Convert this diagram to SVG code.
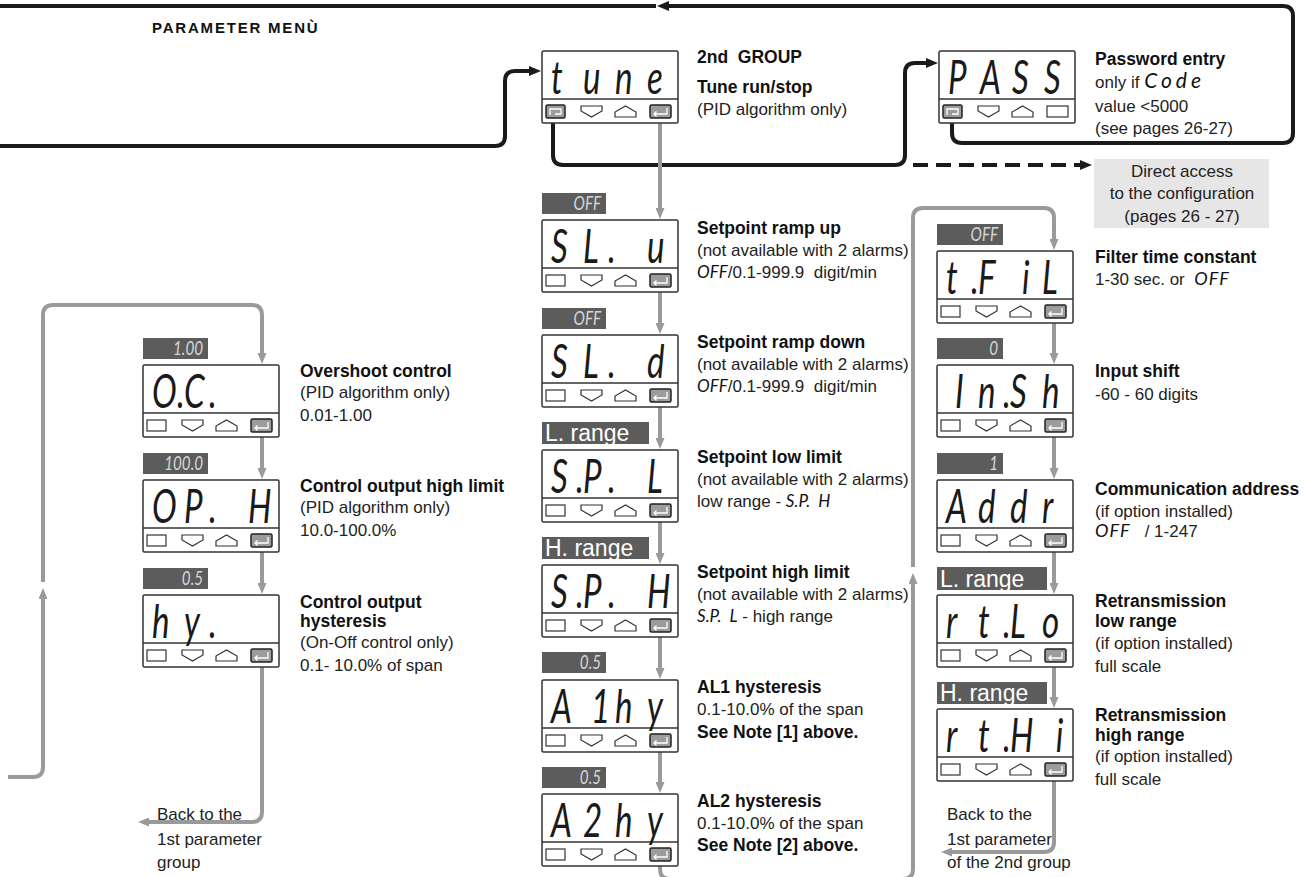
<svg xmlns="http://www.w3.org/2000/svg" width="1307" height="877" viewBox="0 0 1307 877">
<style>
.t{font-family:"Liberation Sans",Arial,sans-serif;font-size:17px;fill:#222}
.b{font-family:"Liberation Sans",Arial,sans-serif;font-size:17.5px;font-weight:bold;fill:#111}
.seg{font-family:Lato,"DejaVu Sans",sans-serif;font-weight:400;font-style:italic;font-size:46px;fill:#1a1a1a}
.bseg{font-family:Lato,"DejaVu Sans",sans-serif;font-weight:400;font-style:italic;font-size:19px;fill:#d6d6d6;text-anchor:end}
.iseg{font-family:Lato,"DejaVu Sans",sans-serif;font-weight:400;font-style:italic;fill:#111}
.badge{fill:#5c5c5c}
.rng{font-family:"Liberation Sans",Arial,sans-serif;font-size:23px;fill:#fff}
.frame{fill:#fff;stroke:#333;stroke-width:1.5}
.btn{fill:#fff;stroke:#333;stroke-width:1.2}
.gbtn{fill:#9c9c9c;stroke:#222;stroke-width:1.5}
.ico{fill:none;stroke:#fff;stroke-width:1.3}
.blk{fill:none;stroke:#1a1a1a;stroke-width:4}
.gry{fill:none;stroke:#9a9a9a;stroke-width:4}
.da{fill:#e6e6e6}
</style>
<defs>
<marker id="ab" viewBox="0 0 12 10" markerWidth="12" markerHeight="10" refX="2" refY="5" orient="auto" markerUnits="userSpaceOnUse"><path d="M0,0 L12,5 L0,10 z" fill="#1a1a1a"/></marker>
<marker id="ag" viewBox="0 0 11 9" markerWidth="11" markerHeight="9" refX="1" refY="4.5" orient="auto" markerUnits="userSpaceOnUse"><path d="M0,0 L11,4.5 L0,9 z" fill="#9a9a9a"/></marker>
<g id="frame"><rect class="frame" x="0" y="0" width="136" height="72" rx="1.5"/><line x1="0" y1="48" x2="136" y2="48" stroke="#333" stroke-width="1.5"/><path class="btn" d="M39,55 H60 V60 L49.5,66 L39,60 Z"/><path class="btn" d="M73,66 H94 V61 L83.5,55 L73,61 Z"/></g>
<g id="b1"><rect class="btn" x="4" y="55" width="19" height="11"/></g>
<g id="bent"><rect class="gbtn" x="108" y="54" width="21" height="13" rx="1.5"/><path class="ico" d="M125,57 V63 H112 M114.5,60.5 L112,63 L114.5,65.5"/></g>
<g id="bscr"><rect class="gbtn" x="4" y="54" width="19" height="13" rx="1.5"/><path class="ico" d="M9,63 H8 V58 H19 V63 H13"/></g>
<g id="b4"><rect class="btn" x="108" y="55" width="21" height="11"/></g>
<g id="panel"><use href="#frame"/><use href="#b1"/><use href="#bent"/></g>
</defs>
<rect width="1307" height="877" fill="#fff"/>

<text class="b" x="152" y="33" style="font-size:15px;letter-spacing:1.8px">PARAMETER MENÙ</text>

<g id="connectors">
<path class="blk" d="M0,6 H656"/>
<path class="blk" d="M952,121 V133 Q952,143 962,143 H1283 Q1293,143 1293,133 V16 Q1293,6 1283,6 H667" marker-end="url(#ab)"/>
<path class="blk" d="M0,146 H495 Q505,146 505,136 V81 Q505,71 515,71 H531" marker-end="url(#ab)"/>
<path class="blk" d="M553,116 V155 Q553,165 563,165 H895 Q905,165 905,155 V73 Q905,63 915,63 H928" marker-end="url(#ab)"/>
<path class="blk" d="M913,165 H1082" stroke-dasharray="15 8" marker-end="url(#ab)"/>
<path class="gry" d="M660,118 V209" marker-end="url(#ag)"/>
<path class="gry" d="M660,287 V324" marker-end="url(#ag)"/>
<path class="gry" d="M660,402 V439" marker-end="url(#ag)"/>
<path class="gry" d="M660,517 V554" marker-end="url(#ag)"/>
<path class="gry" d="M660,632 V669" marker-end="url(#ag)"/>
<path class="gry" d="M660,747 V783" marker-end="url(#ag)"/>
<path class="gry" d="M262,432 V469" marker-end="url(#ag)"/>
<path class="gry" d="M262,547 V584" marker-end="url(#ag)"/>
<path class="gry" d="M1054,318 V354" marker-end="url(#ag)"/>
<path class="gry" d="M1054,432 V469" marker-end="url(#ag)"/>
<path class="gry" d="M1054,547 V584" marker-end="url(#ag)"/>
<path class="gry" d="M1054,662 V698" marker-end="url(#ag)"/>
<path class="gry" d="M8,777 H33 Q43,777 43,767 V598" marker-end="url(#ag)"/>
<path class="gry" d="M43,582 V315 Q43,305 53,305 H252 Q262,305 262,315 V354" marker-end="url(#ag)"/>
<path class="gry" d="M262,662 V812 Q262,822 252,822 H148" marker-end="url(#ag)"/>
<path class="gry" d="M660,861 V869 Q660,879 670,879 H903 Q913,879 913,869 V583" marker-end="url(#ag)"/>
<path class="gry" d="M913,567 V218 Q913,208 923,208 H1044 Q1054,208 1054,218 V240" marker-end="url(#ag)"/>
<path class="gry" d="M1054,776 V842 Q1054,852 1044,852 H951" marker-end="url(#ag)"/>
</g>

<g id="node-tune">
<use href="#frame" x="542" y="51"/><use href="#bscr" x="542" y="51"/><use href="#bent" x="542" y="51"/>
<text class="seg" transform="translate(542,94) scale(.72,1)" x="12.5 56.9 101.4 145.8" y="0">tune</text>
<text class="b" x="697" y="63" xml:space="preserve">2nd  GROUP</text>
<text class="b" x="697" y="93">Tune run/stop</text>
<text class="t" x="697" y="115">(PID algorithm only)</text>
</g>

<g id="node-pass">
<use href="#frame" x="939" y="51"/><use href="#bscr" x="939" y="51"/><use href="#b4" x="939" y="51"/>
<text class="seg" transform="translate(939,94) scale(.72,1)" x="12.5 56.9 101.4 145.8" y="0">PASS</text>
<text class="b" x="1095" y="65">Password entry</text>
<text class="t" x="1095" y="88">only if <tspan class="iseg" font-size="21" letter-spacing="4">Code</tspan></text>
<text class="t" x="1095" y="112">value &lt;5000</text>
<text class="t" x="1095" y="134">(see pages 26-27)</text>
</g>

<g id="node-direct">
<rect class="da" x="1094" y="159" width="175" height="69"/>
<text class="t" x="1182" y="177" text-anchor="middle">Direct access</text>
<text class="t" x="1182" y="199" text-anchor="middle">to the configuration</text>
<text class="t" x="1182" y="222" text-anchor="middle">(pages 26 - 27)</text>
</g>

<g id="node-slu">
<rect class="badge" x="542" y="193" width="64" height="21"/>
<text class="bseg" transform="translate(601,210) scale(.8,1)">OFF</text>
<use href="#panel" x="542" y="220"/>
<text class="seg" transform="translate(542,263) scale(.72,1)" x="12.5 56.9 91.7 101.4 145.8" y="0">SL. u</text>
<text class="b" x="697" y="234">Setpoint ramp up</text>
<text class="t" x="697" y="256">(not available with 2 alarms)</text>
<text class="t" x="697" y="278" xml:space="preserve"><tspan class="iseg" font-size="17" letter-spacing="0">OFF</tspan>/0.1-999.9  digit/min</text>
</g>

<g id="node-sld">
<rect class="badge" x="542" y="308" width="64" height="21"/>
<text class="bseg" transform="translate(601,325) scale(.8,1)">OFF</text>
<use href="#panel" x="542" y="335"/>
<text class="seg" transform="translate(542,378) scale(.72,1)" x="12.5 56.9 91.7 101.4 145.8" y="0">SL. d</text>
<text class="b" x="697" y="348">Setpoint ramp down</text>
<text class="t" x="697" y="370">(not available with 2 alarms)</text>
<text class="t" x="697" y="392" xml:space="preserve"><tspan class="iseg" font-size="17" letter-spacing="0">OFF</tspan>/0.1-999.9  digit/min</text>
</g>

<g id="node-spl">
<rect class="badge" x="542" y="422" width="107" height="22"/>
<text class="rng" x="545" y="441">L. range</text>
<use href="#panel" x="542" y="450"/>
<text class="seg" transform="translate(542,493) scale(.72,1)" x="12.5 47.2 56.9 91.7 101.4 145.8" y="0">S.P. L</text>
<text class="b" x="697" y="463">Setpoint low limit</text>
<text class="t" x="697" y="485">(not available with 2 alarms)</text>
<text class="t" x="697" y="507" xml:space="preserve">low range - <tspan class="iseg" font-size="17">S.P.  H</tspan></text>
</g>

<g id="node-sph">
<rect class="badge" x="542" y="537" width="107" height="22"/>
<text class="rng" x="545" y="556">H. range</text>
<use href="#panel" x="542" y="565"/>
<text class="seg" transform="translate(542,608) scale(.72,1)" x="12.5 47.2 56.9 91.7 101.4 145.8" y="0">S.P. H</text>
<text class="b" x="697" y="578">Setpoint high limit</text>
<text class="t" x="697" y="600">(not available with 2 alarms)</text>
<text class="t" x="697" y="622" xml:space="preserve"><tspan class="iseg" font-size="17">S.P.  L</tspan> - high range</text>
</g>

<g id="node-a1hy">
<rect class="badge" x="542" y="652" width="64" height="21"/>
<text class="bseg" transform="translate(601,669) scale(.8,1)">0.5</text>
<use href="#panel" x="542" y="680"/>
<text class="seg" transform="translate(542,723) scale(.72,1)" x="12.5 68 101.4 145.8" y="0">A1hy</text>
<text class="b" x="697" y="693">AL1 hysteresis</text>
<text class="t" x="697" y="715">0.1-10.0% of the span</text>
<text class="b" x="697" y="738">See Note [1] above.</text>
</g>

<g id="node-a2hy">
<rect class="badge" x="542" y="767" width="64" height="21"/>
<text class="bseg" transform="translate(601,784) scale(.8,1)">0.5</text>
<use href="#panel" x="542" y="794"/>
<text class="seg" transform="translate(542,837) scale(.72,1)" x="12.5 56.9 101.4 145.8" y="0">A2hy</text>
<text class="b" x="697" y="807">AL2 hysteresis</text>
<text class="t" x="697" y="829">0.1-10.0% of the span</text>
<text class="b" x="697" y="851">See Note [2] above.</text>
</g>

<g id="node-oc">
<rect class="badge" x="143" y="338" width="65" height="21"/>
<text class="bseg" transform="translate(203,355) scale(.8,1)">1.00</text>
<use href="#panel" x="143" y="365"/>
<text class="seg" transform="translate(143,408) scale(.72,1)" x="12.5 47.2 56.9 91.7" y="0">O.C.</text>
<text class="b" x="300" y="377">Overshoot control</text>
<text class="t" x="300" y="398">(PID algorithm only)</text>
<text class="t" x="300" y="421">0.01-1.00</text>
</g>

<g id="node-oph">
<rect class="badge" x="143" y="453" width="65" height="21"/>
<text class="bseg" transform="translate(203,470) scale(.8,1)">100.0</text>
<use href="#panel" x="143" y="480"/>
<text class="seg" transform="translate(143,523) scale(.72,1)" x="12.5 56.9 91.7 101.4 145.8" y="0">OP. H</text>
<text class="b" x="300" y="492">Control output high limit</text>
<text class="t" x="300" y="513">(PID algorithm only)</text>
<text class="t" x="300" y="536">10.0-100.0%</text>
</g>

<g id="node-hy">
<rect class="badge" x="143" y="568" width="65" height="21"/>
<text class="bseg" transform="translate(203,585) scale(.8,1)">0.5</text>
<use href="#panel" x="143" y="595"/>
<text class="seg" transform="translate(143,638) scale(.72,1)" x="12.5 56.9 91.7" y="0">hy.</text>
<text class="b" x="300" y="608">Control output</text>
<text class="b" x="300" y="627">hysteresis</text>
<text class="t" x="300" y="648">(On-Off control only)</text>
<text class="t" x="300" y="671">0.1- 10.0% of span</text>
</g>

<g id="node-back1">
<text class="t" x="157" y="820">Back to the</text>
<text class="t" x="157" y="845">1st parameter</text>
<text class="t" x="157" y="868">group</text>
</g>

<g id="node-tfil">
<rect class="badge" x="937" y="224" width="66" height="21"/>
<text class="bseg" transform="translate(998,241) scale(.8,1)">OFF</text>
<use href="#panel" x="937" y="251"/>
<text class="seg" transform="translate(937,294) scale(.72,1)" x="12.5 47.2 56.9 101.4 118 145.8" y="0">t.F iL</text>
<text class="b" x="1095" y="263">Filter time constant</text>
<text class="t" x="1095" y="285" xml:space="preserve">1-30 sec. or  <tspan class="iseg" font-size="18" letter-spacing="1">OFF</tspan></text>
</g>

<g id="node-insh">
<rect class="badge" x="937" y="338" width="66" height="21"/>
<text class="bseg" transform="translate(998,355) scale(.8,1)">0</text>
<use href="#panel" x="937" y="365"/>
<text class="seg" transform="translate(937,408) scale(.72,1)" x="25 56.9 91.7 101.4 145.8" y="0">In.Sh</text>
<text class="b" x="1095" y="377">Input shift</text>
<text class="t" x="1095" y="400">-60 - 60 digits</text>
</g>

<g id="node-addr">
<rect class="badge" x="937" y="453" width="66" height="21"/>
<text class="bseg" transform="translate(998,470) scale(.8,1)">1</text>
<use href="#panel" x="937" y="480"/>
<text class="seg" transform="translate(937,523) scale(.72,1)" x="12.5 56.9 101.4 145.8" y="0">Addr</text>
<text class="b" x="1095" y="495">Communication address</text>
<text class="t" x="1095" y="517">(if option installed)</text>
<text class="t" x="1095" y="537" xml:space="preserve"><tspan class="iseg" font-size="18" letter-spacing="1">OFF</tspan>   / 1-247</text>
</g>

<g id="node-rtlo">
<rect class="badge" x="937" y="567" width="110" height="23"/>
<text class="rng" x="940" y="587">L. range</text>
<use href="#panel" x="937" y="595"/>
<text class="seg" transform="translate(937,638) scale(.72,1)" x="12.5 56.9 91.7 101.4 145.8" y="0">rt.Lo</text>
<text class="b" x="1095" y="607">Retransmission</text>
<text class="b" x="1095" y="627">low range</text>
<text class="t" x="1095" y="649">(if option installed)</text>
<text class="t" x="1095" y="672">full scale</text>
</g>

<g id="node-rthi">
<rect class="badge" x="937" y="682" width="110" height="22"/>
<text class="rng" x="940" y="701">H. range</text>
<use href="#panel" x="937" y="709"/>
<text class="seg" transform="translate(937,752) scale(.72,1)" x="12.5 56.9 91.7 101.4 165" y="0">rt.Hi</text>
<text class="b" x="1095" y="721">Retransmission</text>
<text class="b" x="1095" y="741">high range</text>
<text class="t" x="1095" y="762">(if option installed)</text>
<text class="t" x="1095" y="785">full scale</text>
</g>

<g id="node-back2">
<text class="t" x="947" y="820">Back to the</text>
<text class="t" x="947" y="845">1st parameter</text>
<text class="t" x="947" y="868">of the 2nd group</text>
</g>
</svg>
